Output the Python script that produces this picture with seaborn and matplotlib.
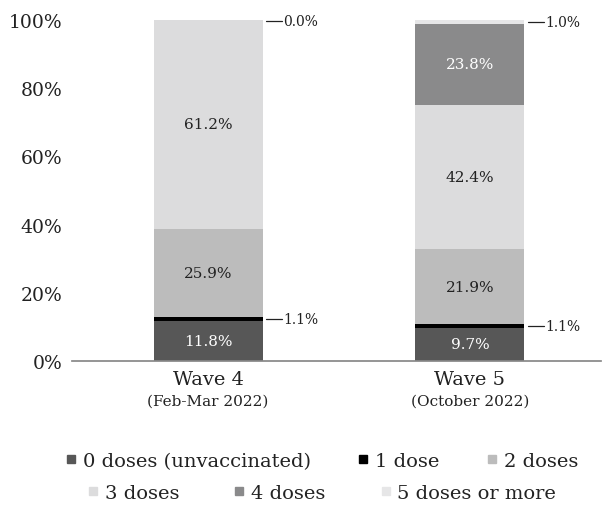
import numpy as np
import pandas as pd
import matplotlib.pyplot as plt
import seaborn as sns
from matplotlib.lines import Line2D

# Data
waves = ['Wave 4', 'Wave 5']
periods = ['(Feb-Mar 2022)', '(October 2022)']
categories = ['0 doses (unvaccinated)', '1 dose', '2 doses', '3 doses', '4 doses', '5 doses or more']
wave4 = [11.8, 1.1, 25.9, 61.2, 0.0, 0.0]
wave5 = [9.7, 1.1, 21.9, 42.4, 23.8, 1.0]
colors = ['#575757', '#000000', '#bcbcbc', '#dcdcdd', '#8a8a8b', '#e6e6e7']
text_colors = ['white', None, '#222222', '#222222', 'white', None]

sns.set_theme(style='white')
plt.rcParams['font.family'] = ['DejaVu Serif']

df = pd.DataFrame({'wave': np.repeat(waves, len(categories)),
                   'cat': categories * 2,
                   'pct': wave4 + wave5})
df['cum'] = df.groupby('wave')['pct'].cumsum()
df['base'] = df['cum'] - df['pct']

fig = plt.figure(figsize=(6.15, 5.06), dpi=100)
ax = fig.add_axes([0.117, 0.2846, 0.86, 0.674])

bar_w = 0.416
# draw cumulative bars from the top layer down so each one covers the last
for cat, col in reversed(list(zip(categories, colors))):
    sub = df[df['cat'] == cat]
    sns.barplot(data=sub, x='wave', y='cum', color=col, saturation=1,
                width=bar_w, order=waves, ax=ax, errorbar=None, linewidth=0)

ax.set_ylim(0, 100)
ax.set_xlim(-0.52, 1.5)
ax.set_yticks(range(0, 101, 20))
ax.set_yticklabels([f'{v}%' for v in range(0, 101, 20)], fontsize=13.5, color='#222222')
ax.set_xticks([0, 1])
ax.set_xticklabels([])
ax.set_xlabel('')
ax.set_ylabel('')
for s in ['top', 'right', 'left']:
    ax.spines[s].set_visible(False)
ax.spines['bottom'].set_color('#888888')
ax.tick_params(axis='x', length=0)
ax.tick_params(axis='y', length=0, pad=7)

# in-bar labels and side labels for the thin slices
for i, w in enumerate(waves):
    sub = df[df['wave'] == w].reset_index(drop=True)
    for j, row in sub.iterrows():
        mid = row['base'] + row['pct'] / 2
        if text_colors[j] is not None and row['pct'] > 3:
            ax.text(i, mid, f"{row['pct']:.1f}%", ha='center', va='center',
                    fontsize=11, color=text_colors[j])
    side = [(1, sub.loc[1, 'base'] + sub.loc[1, 'pct'] / 2, sub.loc[1, 'pct'])]
    top = sub.loc[5]
    side.append((5, min(top['base'] + top['pct'] / 2, 99.7), top['pct']))
    for j, y, v in side:
        x0 = i + bar_w / 2 + 0.015
        ax.plot([x0, x0 + 0.06], [y, y], color='#222222', lw=0.9, clip_on=False)
        ax.text(x0 + 0.065, y, f'{v:.1f}%', ha='left', va='center',
                fontsize=10, color='#222222')

    tr = ax.get_xaxis_transform()
    ax.text(i, -0.025, w, ha='center', va='top', fontsize=14, color='#222222', transform=tr)
    ax.text(i, -0.095, periods[i], ha='center', va='top', fontsize=11, color='#222222', transform=tr)

handles = [Line2D([], [], marker='s', ls='', markersize=6, color=c) for c in colors]
leg1 = fig.legend(handles[:3], categories[:3], loc='center', bbox_to_anchor=(0.52, 0.087),
                  ncol=3, frameon=False, fontsize=14, handletextpad=0.1,
                  columnspacing=2.2, handlelength=1)
leg2 = fig.legend(handles[3:], categories[3:], loc='center', bbox_to_anchor=(0.52, 0.024),
                  ncol=3, frameon=False, fontsize=14, handletextpad=0.1,
                  columnspacing=2.6, handlelength=1)
for leg in (leg1, leg2):
    for t in leg.get_texts():
        t.set_color('#222222')

plt.savefig('out.png', dpi=100)
